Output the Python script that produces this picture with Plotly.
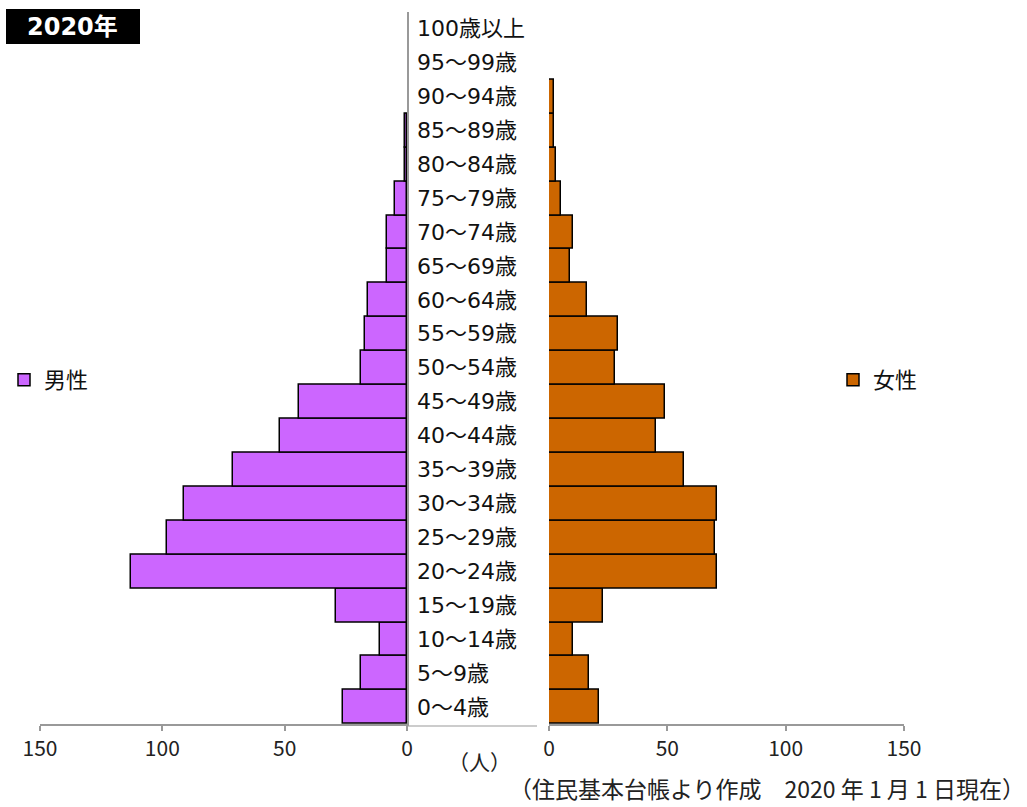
import plotly.graph_objects as go

# 年齢階級（下から上へ）
age_groups = ["0～4歳", "5～9歳", "10～14歳", "15～19歳", "20～24歳", "25～29歳",
              "30～34歳", "35～39歳", "40～44歳", "45～49歳", "50～54歳", "55～59歳",
              "60～64歳", "65～69歳", "70～74歳", "75～79歳", "80～84歳", "85～89歳",
              "90～94歳", "95～99歳", "100歳以上"]

# 人口（人）
male = [26, 19, 11, 29, 113, 98, 91, 71, 52, 44, 19, 17, 16, 8, 8, 5, 1, 1, 0, 0, 0]
female = [21, 17, 10, 23, 71, 70, 71, 57, 45, 49, 28, 29, 16, 9, 10, 5, 3, 2, 2, 0, 0]

x_ticks = [0, 50, 100, 150]
x_max = 150

MALE_COLOR = "#CC66FF"
FEMALE_COLOR = "#CC6600"
JP_FONT = "Noto Sans CJK JP"
LABEL_FONT = "DejaVu Sans, Noto Sans CJK JP"
TICK_FONT = "Liberation Sans Narrow, Noto Sans CJK JP"

W, H = 1027, 807


def px(x):
    return x / W


def py(y):
    return 1 - y / H


def outline_widths(values):
    # 0人の階級には枠線を描かない
    return [1.5 if v > 0 else 0 for v in values]


fig = go.Figure()

fig.add_trace(go.Bar(
    y=age_groups, x=male, orientation="h", name="男性",
    xaxis="x", yaxis="y", legend="legend",
    marker=dict(color=MALE_COLOR,
                line=dict(color="black", width=outline_widths(male))),
    hoverinfo="x+y",
))
fig.add_trace(go.Bar(
    y=age_groups, x=female, orientation="h", name="女性",
    xaxis="x2", yaxis="y", legend="legend2",
    marker=dict(color=FEMALE_COLOR,
                line=dict(color="black", width=outline_widths(female))),
    hoverinfo="x+y",
))

axis_common = dict(
    tickvals=x_ticks, ticktext=[str(v) for v in x_ticks],
    showgrid=False, zeroline=False, showline=True,
    linecolor="#999999", linewidth=1.5,
    ticks="outside", ticklen=5, tickcolor="#999999", tickwidth=1.5,
    tickfont=dict(family=TICK_FONT, size=21, color="#222222"),
    anchor="y", layer="below traces", fixedrange=True, automargin=False,
)

# 中央の列に並べる年齢ラベル
annotations = []
for g in age_groups:
    annotations.append(dict(
        x=px(415), xref="paper", y=g, yref="y", text=g, showarrow=False,
        xanchor="left", yanchor="middle",
        font=dict(family=LABEL_FONT, size=22, color="#111111"),
    ))

annotations += [
    dict(x=px(72), y=py(27), xref="paper", yref="paper", text="<b>2020年</b>",
         showarrow=False, xanchor="center", yanchor="middle",
         font=dict(family="DejaVu Sans, Noto Sans CJK JP", size=24, color="white")),
    dict(x=px(479), y=py(761), xref="paper", yref="paper", text="（人）",
         showarrow=False, xanchor="center", yanchor="middle",
         font=dict(family=JP_FONT, size=21, color="#222222")),
    dict(x=px(1027), y=0, xref="paper", yref="paper",
         text="（住民基本台帳より作成　2020 年 1 月 1 日現在）",
         showarrow=False, xanchor="right", yanchor="bottom",
         font=dict(family=JP_FONT, size=23, color="#222222")),
]

shapes = [
    dict(type="rect", xref="paper", yref="paper",
         x0=px(6), x1=px(140), y0=py(9), y1=py(44),
         fillcolor="black", line=dict(width=0), layer="below"),
    dict(type="line", xref="paper", yref="paper",
         x0=px(407), x1=px(537), y0=py(726), y1=py(726),
         line=dict(color="#BBBBBB", width=1.5), layer="below"),
]

fig.update_layout(
    width=W, height=H,
    margin=dict(l=0, r=0, t=0, b=0, autoexpand=False),
    paper_bgcolor="white", plot_bgcolor="white",
    bargap=0, barmode="overlay",
    xaxis=dict(domain=[px(40), px(407)], range=[x_max, 0], **axis_common),
    xaxis2=dict(domain=[px(549), px(904)], range=[0, x_max], **axis_common),
    yaxis=dict(domain=[py(724), py(11.7)], categoryorder="array",
               categoryarray=age_groups, anchor="x", side="right",
               showticklabels=False, ticks="", showgrid=False, zeroline=False,
               showline=True, linecolor="#999999", linewidth=1.5,
               layer="below traces", fixedrange=True, automargin=False),
    legend=dict(x=px(4), y=py(380), xanchor="left", yanchor="middle",
                font=dict(family=JP_FONT, size=22, color="#111111"),
                bgcolor="rgba(0,0,0,0)", itemclick=False, itemdoubleclick=False),
    legend2=dict(x=px(833), y=py(380), xanchor="left", yanchor="middle",
                 font=dict(family=JP_FONT, size=22, color="#111111"),
                 bgcolor="rgba(0,0,0,0)", itemclick=False, itemdoubleclick=False),
    annotations=annotations,
    shapes=shapes,
    showlegend=True,
)

fig.write_html("out.html")
